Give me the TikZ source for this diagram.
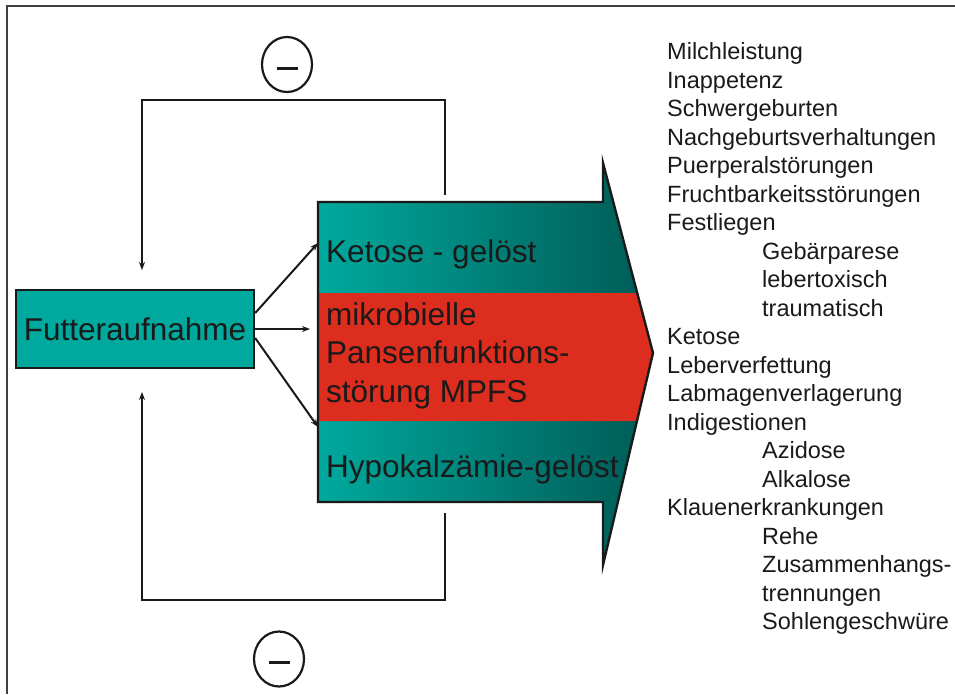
\documentclass[tikz,border=0pt]{standalone}
\usepackage{fontspec}
\setmainfont{Liberation Sans}
\usepackage{tikz}
\usepackage{xcolor}
\usetikzlibrary{positioning, shapes.geometric, arrows.meta, calc}

\definecolor{tealL}{HTML}{00A99D}
\definecolor{tealD}{HTML}{005A55}
\definecolor{mpfsred}{HTML}{DC2D1E}
\definecolor{ink}{HTML}{1A1A1A}

\begin{document}
\begin{tikzpicture}[
  x=1pt, y=-1pt,
  >={Stealth[length=8pt,width=6pt]},
  every node/.style={text=ink, inner sep=0pt},
  bigtext/.style={font=\fontsize{31.5}{38.5}\selectfont},
  listtext/.style={font=\fontsize{23.5}{28.5}\selectfont, anchor=base west},
  feedback/.style={line width=2.2pt, ink},
  minus/.style={ellipse, draw=ink, line width=2.2pt, minimum width=50pt, minimum height=55pt}
]
\useasboundingbox (0,0) rectangle (955,694);
% frame
\draw[line width=1.2pt, black!75] (7,694) -- (7,6) -- (955,6);

% Big arrow: teal shading, red band across the middle
\shade[left color=tealL, right color=tealD] (318,202) -- (603,202) -- (603,163) -- (653,353)
  -- (603,565) -- (603,502) -- (318,502) -- cycle;
\fill[mpfsred] (318,293) -- (637.2,293) -- (653,353) -- (637,421) -- (318,421) -- cycle;
\draw[line width=2.4pt, ink] (318,202) -- (603,202) -- (603,163) -- (653,353)
  -- (603,565) -- (603,502) -- (318,502) -- cycle;

% Arrow texts
\node[bigtext, anchor=base west] (ketose) at (326,262) {Ketose - gelöst};
\node[bigtext, anchor=base west, align=left] (mpfs) at (326,402) {mikrobielle\\Pansenfunktions-\\störung MPFS};
\node[bigtext, anchor=base west] (hypo) at (326,477) {Hypokalzämie-gelöst};

% Futteraufnahme
\node[draw=ink, fill=tealL, line width=2.4pt, minimum width=238pt, minimum height=78pt, bigtext]
  (futter) at (135,329) {Futteraufnahme};

\coordinate (toK) at (318,243);
\coordinate (toM) at (310,329);
\coordinate (toH) at (318,427);
\draw[->, line width=2pt, ink] ([yshift=16pt]futter.east) -- (toK);
\draw[->, line width=2pt, ink] (futter.east) -- (toM);
\draw[->, line width=2pt, ink] ([yshift=-9pt]futter.east) -- (toH);

% Feedback loops
\coordinate (topout) at (445,195);
\coordinate (topin) at (142,270);
\draw[feedback, ->] (topout) -- ++(0,-95) -| (topin);
\coordinate (botout) at (445,513);
\coordinate (botin) at (142,392);
\draw[feedback, ->] (botout) -- ++(0,87) -| (botin);

% Minus signs
\node[minus] (minusT) at (287,64.5) {};
\node[minus] (minusB) at (279,659) {};
\draw[line width=3pt, ink] ([xshift=-10.5pt,yshift=-3.5pt]minusT.center) -- ([xshift=10.5pt,yshift=-3.5pt]minusT.center);
\draw[line width=3pt, ink] ([xshift=-10.5pt,yshift=-3.5pt]minusB.center) -- ([xshift=10.5pt,yshift=-3.5pt]minusB.center);

% Consequences list
\foreach \ind/\txt [count=\i] in {0/Milchleistung, 0/Inappetenz, 0/Schwergeburten,
    0/Nachgeburtsverhaltungen, 0/Puerperalstörungen, 0/Fruchtbarkeitsstörungen,
    0/Festliegen, 1/Gebärparese, 1/lebertoxisch, 1/traumatisch, 0/Ketose,
    0/Leberverfettung, 0/Labmagenverlagerung, 0/Indigestionen, 1/Azidose,
    1/Alkalose, 0/Klauenerkrankungen, 1/Rehe, 1/Zusammenhangs-, 1/trennungen,
    1/Sohlengeschwüre}
  \node[listtext] (item\i) at ({667+95*\ind}, {59.5+28.5*(\i-1)}) {\txt};

\end{tikzpicture}
\end{document}
